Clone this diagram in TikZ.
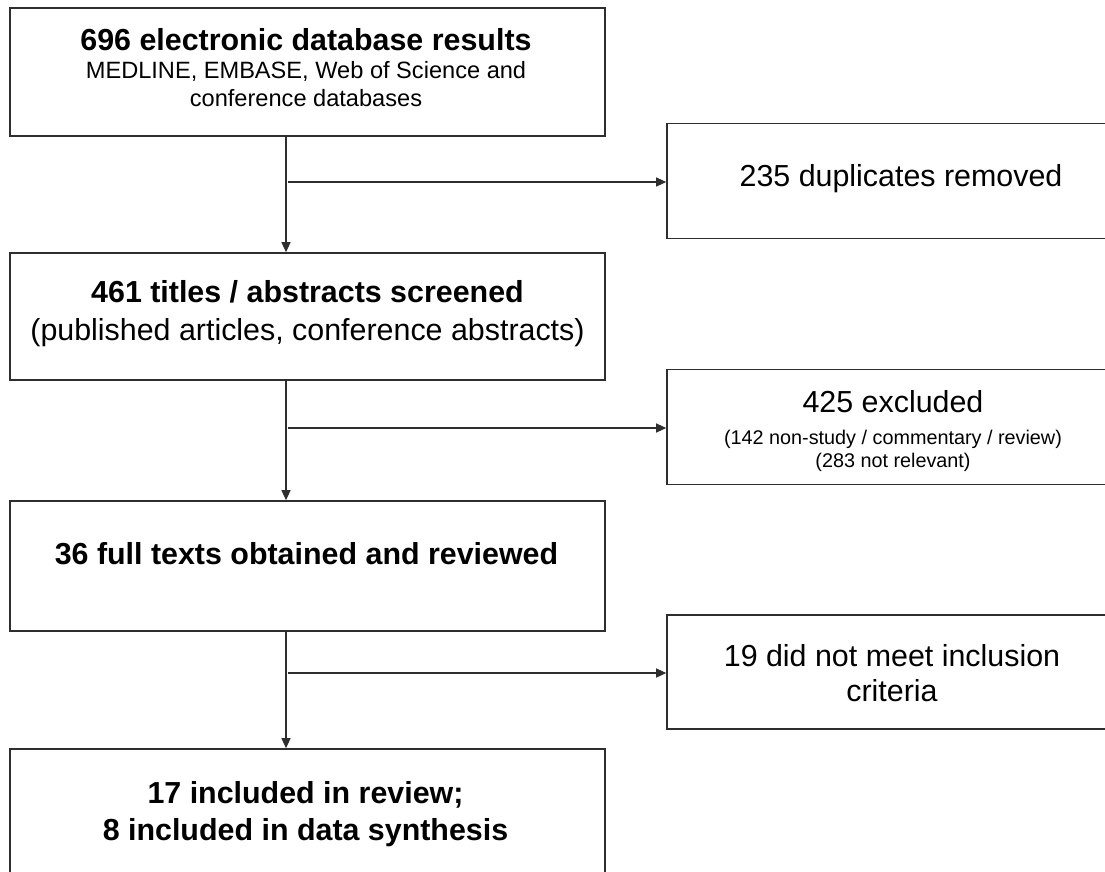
\documentclass[tikz,border=0pt]{standalone}
\usepackage{fontspec}
\setmainfont{Liberation Sans}
\usetikzlibrary{arrows.meta}
\begin{document}
\begin{tikzpicture}[x=1pt,y=-1pt,
  lbox/.style={draw=black!82, line width=1.6pt, rectangle, inner sep=0pt, minimum width=595pt},
  rbox/.style={draw=black!82, line width=1.6pt, rectangle, inner sep=0pt, minimum width=452pt},
  conn/.style={draw=black!82, line width=1.2pt},
  arr/.style={conn, -{Triangle[length=10pt,width=9pt]}},
  txt/.style={align=center, inner sep=0pt, text=black}
]
\useasboundingbox (0,0) rectangle (1105,871);
\clip (0,0) rectangle (1105,871);
\fill[white] (0,0) rectangle (1105,871);

% boxes
\node[lbox, minimum height=128pt] (b1) at (307.5,72) {};
\node[rbox, minimum height=115pt] (b2) at (893,181) {};
\node[lbox, minimum height=127pt] (b3) at (307.5,316.5) {};
\node[rbox, minimum height=115pt] (b4) at (893,427) {};
\node[lbox, minimum height=130pt] (b5) at (307.5,566) {};
\node[rbox, minimum height=114pt] (b6) at (893,672) {};
\node[lbox, minimum height=131pt] (b7) at (307.5,814.5) {};

% texts
\node[txt, font=\fontsize{23.6}{28}\selectfont] (t1) at (306,68)
  {{\bfseries\fontsize{30.4}{28}\selectfont 696 electronic database results}\\
   MEDLINE, EMBASE, Web of Science and\\ conference databases};
\node[txt, font=\fontsize{30.4}{37}\selectfont] (t2) at (901,179) {235 duplicates removed};
\node[txt, font=\fontsize{30.4}{38}\selectfont] (t3) at (307.5,313.5)
  {{\bfseries 461 titles / abstracts screened}\\(published articles, conference abstracts)};
\node[txt, font=\fontsize{19.8}{23}\selectfont] (t4) at (893,431)
  {{\fontsize{30.4}{23}\selectfont 425 excluded}\\[9pt]
   (142 non-study / commentary / review)\\(283 not relevant)};
\node[txt, font=\fontsize{30.4}{37}\selectfont\bfseries] (t5) at (306.5,554) {36 full texts obtained and reviewed};
\node[txt, font=\fontsize{30.4}{35}\selectfont] (t6) at (892,673) {19 did not meet inclusion\\criteria};
\node[txt, font=\fontsize{30.4}{37}\selectfont\bfseries] (t7) at (305.5,814)
  {17 included in review;\\8 included in data synthesis};

% connectors
\coordinate (vx) at (286,0);
\draw[arr] (b1.south -| vx) -- (b3.north -| vx);
\draw[arr] (b3.south -| vx) -- (b5.north -| vx);
\draw[arr] (b5.south -| vx) -- (b7.north -| vx);
\coordinate (h1) at (288,182);
\coordinate (h2) at (288,428);
\coordinate (h3) at (288,673);
\draw[arr] (h1) -- (h1 -| b2.west);
\draw[arr] (h2) -- (h2 -| b4.west);
\draw[arr] (h3) -- (h3 -| b6.west);
\end{tikzpicture}
\end{document}
